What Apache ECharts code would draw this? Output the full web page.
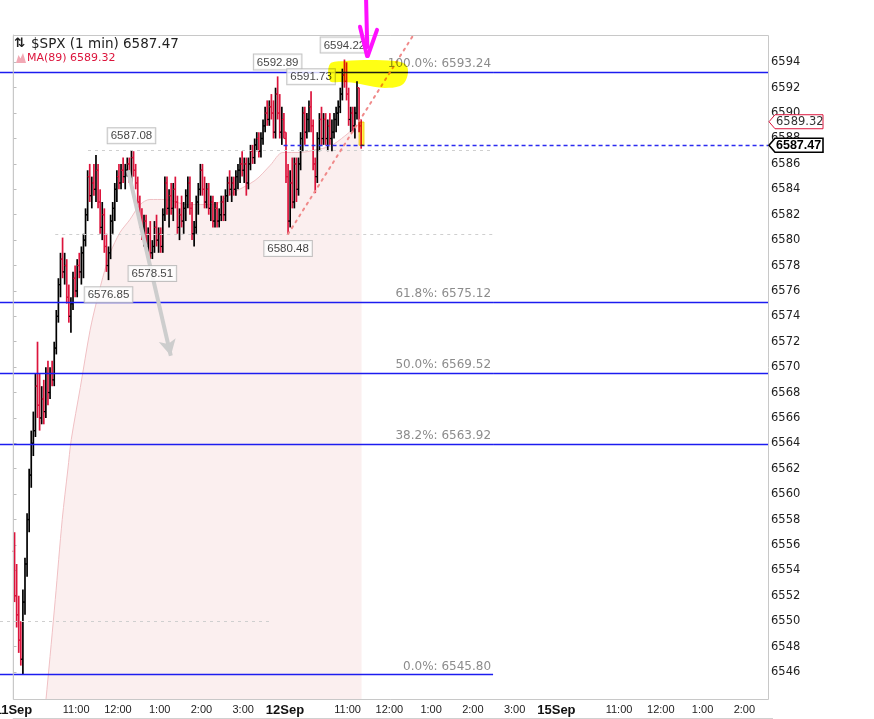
<!DOCTYPE html>
<html><head><meta charset="utf-8">
<script src="https://cdn.jsdelivr.net/npm/echarts@6/dist/echarts.min.js"></script>
<style>html,body{margin:0;padding:0;background:#fff}#c{width:874px;height:719px}</style>
</head><body><div id="c"></div>
<script>
// ---- x axis (trading minutes since 11 Sep 9:30) ----
const tickMinutes = [0,90,150,210,270,330,390,480,540,600,660,720,780,870,930,990,1050];
const tickLabels  = ['11Sep','11:00','12:00','1:00','2:00','3:00','12Sep','11:00','12:00','1:00','2:00','3:00','15Sep','11:00','12:00','1:00','2:00'];
const dayLabels = ['11Sep','12Sep','15Sep'];
const dayOpenMinute = [0, 390, 780];
const barStep = 3;
const xMin = -19.4, xMax = 1084;
// ---- y axis ----
const yMin = 6543.87, yMax = 6596.15;
const yTicks = [6546,6548,6550,6552,6554,6556,6558,6560,6562,6564,6566,6568,6570,6572,6574,6576,6578,6580,6582,6584,6586,6588,6590,6592,6594];

// ---- $SPX bars [open, high, low, close] ----
const day1Bars = [
[6555.5,6557.0,6551.5,6552.0],[6552.0,6554.5,6549.5,6550.5],[6550.5,6552.0,6547.5,6548.5],[6548.5,6550.0,6546.5,6547.0],
[6547.0,6552.5,6545.8,6551.5],[6551.5,6555.0,6550.5,6554.5],[6554.5,6558.5,6553.5,6558.0],[6558.0,6562.0,6557.0,6561.5],
[6561.5,6565.0,6560.5,6564.0],[6564.0,6566.5,6563.0,6565.0],[6565.0,6569.5,6564.5,6568.5],[6568.5,6572.0,6566.0,6567.0],
[6567.0,6569.5,6565.0,6566.0],[6566.0,6568.5,6565.5,6567.5],[6567.5,6569.0,6565.5,6566.5],[6566.5,6570.0,6566.0,6569.5],
[6569.5,6570.5,6567.0,6568.0],[6568.0,6570.0,6567.5,6569.5],[6569.5,6570.5,6568.5,6569.0],[6569.0,6572.0,6568.5,6571.5],
[6571.5,6574.5,6571.0,6574.0],[6574.0,6577.0,6573.5,6576.5],[6576.5,6579.0,6575.5,6578.5],[6578.5,6580.2,6577.0,6577.5],
[6577.5,6579.0,6576.5,6578.0],[6578.0,6578.5,6575.0,6575.5],[6575.5,6576.5,6573.5,6574.0],[6574.0,6575.5,6572.7,6575.0],
[6575.0,6577.5,6574.5,6577.0],[6577.0,6578.0,6575.5,6576.0],[6576.0,6578.5,6575.5,6578.0],[6578.0,6579.0,6577.0,6577.5],
[6577.5,6579.5,6576.5,6579.0],[6579.0,6580.5,6577.0,6580.0],[6580.0,6582.5,6579.5,6582.0],[6582.0,6585.5,6581.5,6585.0],
[6585.0,6586.0,6583.0,6583.5],[6583.5,6585.0,6582.5,6584.5],[6584.5,6586.0,6583.5,6584.0],[6584.0,6586.7,6583.0,6585.5],
[6585.5,6586.0,6582.5,6583.0],[6583.0,6584.0,6580.5,6581.0],[6581.0,6583.0,6580.0,6582.0],[6582.0,6582.5,6579.0,6579.5],
[6579.5,6580.5,6577.5,6578.0],[6578.0,6579.5,6576.85,6579.0],[6579.0,6582.0,6578.5,6581.5],[6581.5,6583.0,6580.5,6582.5],
[6582.5,6584.5,6581.5,6584.0],[6584.0,6585.5,6583.0,6585.0],[6585.0,6586.0,6584.0,6584.5],[6584.5,6586.0,6584.0,6585.5],
[6585.5,6586.5,6584.5,6585.0],[6585.0,6586.0,6584.0,6585.5],[6585.5,6586.5,6585.0,6586.0],[6586.0,6586.5,6584.5,6585.0],
[6585.0,6587.08,6584.5,6586.5],[6586.5,6587.0,6585.0,6585.5],[6585.5,6586.0,6584.0,6584.5],[6584.5,6585.0,6582.5,6583.0],
[6583.0,6583.5,6581.0,6581.5],[6581.5,6582.5,6580.0,6580.5],[6580.5,6582.0,6579.5,6581.5],[6581.5,6582.0,6579.0,6579.5],
[6579.5,6581.0,6579.0,6580.5],[6580.5,6581.5,6578.5,6579.0],[6579.0,6580.0,6578.51,6579.5],[6579.5,6581.5,6579.0,6581.0],
[6581.0,6582.0,6579.5,6580.0],[6580.0,6581.0,6579.0,6580.5],[6580.5,6581.0,6579.0,6579.5],[6579.5,6582.5,6579.0,6582.0],
[6582.0,6585.0,6581.5,6584.5],[6584.5,6585.0,6582.0,6582.5],[6582.5,6584.0,6581.0,6583.5],[6583.5,6584.5,6582.0,6582.5],
[6582.5,6584.5,6581.5,6584.0],[6584.0,6585.0,6582.5,6583.0],[6583.0,6583.5,6580.5,6581.0],[6581.0,6582.5,6580.0,6582.0],
[6582.0,6583.5,6581.0,6581.5],[6581.5,6583.0,6580.5,6582.5],[6582.5,6584.0,6581.5,6583.5],[6583.5,6585.0,6582.5,6584.5],
[6584.5,6585.0,6582.0,6582.5],[6582.5,6583.0,6580.0,6580.5],[6580.5,6581.5,6579.5,6581.0],[6581.0,6583.5,6580.5,6583.0],
[6583.0,6584.5,6582.0,6584.0],[6584.0,6586.0,6583.5,6585.5],[6585.5,6586.0,6583.5,6584.0],[6584.0,6585.0,6582.5,6583.0],
[6583.0,6584.5,6582.5,6584.0],[6584.0,6584.5,6582.0,6582.5],[6582.5,6583.5,6581.5,6583.0],[6583.0,6583.5,6581.0,6581.5],
[6581.5,6583.0,6581.0,6582.5],[6582.5,6583.0,6581.0,6581.5],[6581.5,6582.5,6581.0,6582.0],[6582.0,6583.5,6581.5,6583.0],
[6583.0,6583.5,6581.5,6582.0],[6582.0,6584.0,6581.5,6583.5],[6583.5,6585.0,6583.0,6584.5],[6584.5,6585.5,6583.5,6584.0],
[6584.0,6585.0,6583.0,6584.5],[6584.5,6585.0,6583.5,6584.0],[6584.0,6585.5,6583.5,6585.0],[6585.0,6586.0,6584.0,6585.5],
[6585.5,6586.5,6584.5,6586.0],[6586.0,6587.0,6585.0,6585.5],[6585.5,6586.5,6584.5,6586.0],[6586.0,6586.5,6583.5,6584.5],
[6584.5,6586.5,6584.0,6586.0],[6586.0,6587.5,6585.5,6587.0],[6587.0,6587.5,6586.0,6586.5],[6586.5,6588.0,6586.0,6587.5],
[6587.5,6588.5,6587.0,6588.0],[6588.0,6588.5,6586.5,6587.0],[6587.0,6588.5,6586.5,6588.0],[6588.0,6589.5,6587.5,6589.0],
[6589.0,6590.5,6588.5,6590.0],[6590.0,6591.0,6589.0,6589.5],[6589.5,6591.0,6589.0,6590.5],[6590.5,6591.5,6589.5,6590.0],
[6590.0,6591.0,6588.0,6588.5],[6588.5,6592.0,6588.0,6591.5],[6591.5,6592.89,6589.5,6590.0],[6590.0,6591.5,6588.0,6588.5],
[6588.5,6590.5,6587.5,6589.5],[6589.5,6590.0,6588.0,6588.5]
];
const day2Bars = [
[6588.0,6588.5,6584.5,6585.0],[6585.0,6586.0,6580.48,6581.5],[6581.5,6585.5,6581.0,6584.5],[6584.5,6586.5,6582.5,6583.0],
[6583.0,6586.5,6582.5,6586.0],[6586.0,6586.5,6583.0,6584.0],[6584.0,6586.5,6583.5,6586.0],[6586.0,6588.5,6585.5,6588.0],
[6588.0,6590.5,6587.0,6590.0],[6590.0,6590.5,6587.5,6588.5],[6588.5,6590.0,6588.0,6589.5],[6589.5,6591.0,6588.5,6590.5],
[6590.5,6591.73,6588.5,6589.0],[6589.0,6589.5,6585.5,6586.0],[6586.0,6586.5,6583.7,6585.0],[6585.0,6588.5,6584.5,6588.0],
[6588.0,6590.0,6587.0,6589.5],[6589.5,6590.5,6587.5,6588.0],[6588.0,6590.0,6587.5,6589.5],[6589.5,6590.0,6587.5,6588.0],
[6588.0,6589.5,6587.0,6589.0],[6589.0,6590.0,6587.5,6588.0],[6588.0,6589.5,6587.0,6588.5],[6588.5,6590.0,6588.0,6589.5],
[6589.5,6590.5,6588.5,6590.0],[6590.0,6591.0,6589.0,6590.5],[6590.5,6592.0,6590.0,6591.5],[6591.5,6593.5,6591.0,6593.0],
[6593.0,6594.22,6592.0,6592.5],[6592.5,6594.0,6591.0,6591.5],[6591.5,6592.0,6589.0,6589.5],[6589.5,6590.5,6588.5,6590.0],
[6590.0,6590.5,6588.5,6589.0],[6589.0,6590.5,6588.0,6590.0],[6590.0,6592.5,6589.5,6592.0],[6592.0,6592.0,6588.5,6589.0],
[6589.0,6589.5,6587.2,6587.47]
];

// ---- MA(89) ----
const maMinutes = [38,48,60,70,78,83,96,110,120,131,139,153,167,182,196,218,249,287,311,347,369,387,412,433,455,476,500];
const maValues  = [6539.1,6544.6,6551.7,6558.0,6561.9,6564.3,6568.4,6572.9,6575.3,6577.6,6579.0,6580.6,6581.6,6582.8,6583.2,6583.2,6582.8,6582.8,6583.6,6584.7,6585.9,6586.9,6586.9,6587.1,6587.4,6588.2,6589.32];

// ---- Fibonacci retracement ----
const fibPct    = ['100.0%','61.8%','50.0%','38.2%','0.0%'];
const fibLevels = [6593.24, 6575.12, 6569.52, 6563.92, 6545.80];
const fibFullWidth = [true, true, true, true, false];
const fibLabelEnd = 689;

// ---- labelled swing highs / lows ----
const extremeDay  = [0,0,0,0,1,1,1];
const extremeBar  = [56,45,66,126,1,12,28];
const extremeSide = ['top','bottom','bottom','top','bottom','top','top'];

// ---- drawn annotations (data coordinates: minute, price) ----
const dottedLevels = [6587.08, 6580.48, 6550.0];
const dottedFrom   = [107, 60, -19.4];
const dottedTo     = [689, 689, 368];
const trendStart = [394.5, 6580.48], trendEnd = [574, 6596.1];
const greyArrow = [[164.5, 6585.5], [226, 6570.9]];
const currentLineStart = 388;
const highlightBlob = [[454.7,6593.87],[476.3,6594.10],[512.2,6594.18],[548.1,6594.10],[562.5,6593.87],[566.8,6593.39],[563.9,6592.61],[555.3,6592.13],[533.5,6591.98],[512.2,6592.13],[490.7,6592.37],[469.1,6592.45],[454.7,6592.53]];
const highlightBox = [[496.5, 6589.3],[503.5, 6587.47]];
const penStroke = [[506.5, 6599.1],[508.2, 6595.2]];
const penLeft   = [[497.8, 6596.8],[508.0, 6594.5]];
const penRight  = [[522.3, 6596.55],[509.0, 6594.5]];

const RED = '#dc143c';
const barData = [];
[day1Bars, day2Bars].forEach((bars, d) => bars.forEach((b, i) => {
  barData.push([dayOpenMinute[d] + barStep * i + barStep / 2, b[0], b[1], b[2], b[3]]);
}));
const lastClose = day2Bars[day2Bars.length - 1][3];
const lastMA = maValues[maValues.length - 1];

const extremeData = extremeDay.map((d, k) => {
  const b = (d === 0 ? day1Bars : day2Bars)[extremeBar[k]];
  const m = dayOpenMinute[d] + barStep * extremeBar[k] + barStep / 2;
  const v = extremeSide[k] === 'top' ? b[1] : b[2];
  return { value: [m, v], label: { position: extremeSide[k] } };
});

const fibLineStyle = { color: '#1c1cf0', width: 1.3, type: 'solid' };
const markLines = [];
fibLevels.forEach((lvl, k) => {
  markLines.push([
    { coord: [xMin, lvl], lineStyle: fibLineStyle,
      label: { show: true, position: 'insideEndTop', formatter: fibPct[k] + ': ' + lvl.toFixed(2),
               color: '#8c8c8c', fontSize: 12, fontFamily: 'DejaVu Sans', distance: 2 } },
    { coord: [fibLabelEnd, lvl] }
  ]);
  if (fibFullWidth[k]) markLines.push([{ coord: [fibLabelEnd, lvl], lineStyle: fibLineStyle }, { coord: [xMax, lvl] }]);
});
dottedLevels.forEach((lvl, k) => {
  markLines.push([{ coord: [dottedFrom[k], lvl], lineStyle: { color: '#cfcfcf', width: 1, type: [3, 4] } }, { coord: [dottedTo[k], lvl] }]);
});
markLines.push([{ coord: [currentLineStart, lastClose], lineStyle: { color: '#2b2bf0', width: 1.4, type: [4, 3] } }, { coord: [xMax, lastClose] }]);
markLines.push([{ coord: trendStart, lineStyle: { color: '#f08a8a', width: 2, type: [2, 5], cap: 'round' } }, { coord: trendEnd }]);
markLines.push([{ coord: greyArrow[0], symbol: 'none', lineStyle: { color: '#cdcdcd', width: 4, type: 'solid' } },
                { coord: greyArrow[1], symbol: 'arrow', symbolSize: [13, 16] }]);

const chart = echarts.init(document.getElementById('c'), null, { renderer: 'canvas' });
chart.setOption({
  animation: false,
  backgroundColor: '#fff',
  grid: { left: 0, right: 106, top: 35, bottom: 20, containLabel: false, outerBoundsMode: 'none' },
  xAxis: {
    type: 'value', min: xMin, max: xMax,
    axisLine: { show: false }, splitLine: { show: false },
    axisTick: { show: false },
    axisLabel: {
      customValues: tickMinutes, margin: 5, fontSize: 11, color: '#222', fontFamily: 'Liberation Sans',
      formatter: v => { const t = tickLabels[tickMinutes.indexOf(v)] || ''; return dayLabels.includes(t) ? '{d|' + t + '}' : t; },
      rich: { d: { fontWeight: 'bold', fontSize: 13, fontFamily: 'Liberation Sans', color: '#111' } }
    }
  },
  yAxis: {
    type: 'value', position: 'right', min: yMin, max: yMax, scale: true,
    axisLine: { show: true, lineStyle: { color: '#c8c8c8' } },
    splitLine: { show: false },
    axisTick: { show: true, length: 3, lineStyle: { color: '#bdbdbd' }, customValues: yTicks },
    axisLabel: { customValues: yTicks, formatter: v => String(v), margin: 3, fontSize: 11.5, color: '#222', fontFamily: 'DejaVu Sans' }
  },
  series: [
    {
      type: 'line', name: 'MA(89)', z: 1, smooth: 0.3, showSymbol: false, symbol: 'none',
      data: maMinutes.map((m, i) => [m, maValues[i]]),
      lineStyle: { color: '#f0c0c4', width: 1 },
      areaStyle: { color: 'rgba(232,150,150,0.22)', origin: 'start' },
      clip: true, silent: true
    },
    {
      type: 'custom', name: '$SPX', z: 3, clip: true, silent: true,
      data: barData,
      encode: { x: 0, y: [1, 2, 3, 4] },
      renderItem: (params, api) => {
        const m = api.value(0);
        const o = api.value(1), h = api.value(2), l = api.value(3), c = api.value(4);
        const pH = api.coord([m, h]), pL = api.coord([m, l]), pO = api.coord([m, o]), pC = api.coord([m, c]);
        const col = c >= o ? '#000' : RED;
        const st = { stroke: col, lineWidth: 1.7 };
        return { type: 'group', children: [
          { type: 'line', shape: { x1: pH[0], y1: pH[1], x2: pL[0], y2: pL[1] }, style: st },
          { type: 'line', shape: { x1: pO[0] - 2, y1: pO[1], x2: pO[0], y2: pO[1] }, style: { stroke: col, lineWidth: 1.2 } },
          { type: 'line', shape: { x1: pC[0], y1: pC[1], x2: pC[0] + 2, y2: pC[1] }, style: { stroke: col, lineWidth: 1.2 } }
        ]};
      },
      markLine: { silent: true, symbol: 'none', animation: false, label: { show: false }, data: markLines }
    },
    {
      type: 'scatter', z: 6, silent: true, symbolSize: 0.01,
      itemStyle: { color: 'rgba(0,0,0,0)' },
      data: extremeData,
      label: { show: true, formatter: p => p.value[1].toFixed(2), backgroundColor: '#fff', borderColor: '#b4b4b4',
               borderWidth: 1, padding: [2, 3, 1, 3], fontSize: 11.5, fontFamily: 'Liberation Sans', color: '#111', distance: 7 }
    }
  ]
});

// ---- overlays positioned through the chart's scales ----
const px = (m, v) => chart.convertToPixel({ gridIndex: 0 }, [m, v]);
const gTop = px(0, yMax)[1], gBot = px(0, yMin)[1];
const frameL = px(-1, yMax)[0], frameR = px(xMax, yMax)[0];
const els = [];
els.push({ type: 'rect', z: 50, shape: { x: frameL + 0.5, y: gTop + 0.5, width: frameR - frameL, height: gBot - gTop }, style: { fill: 'none', stroke: '#c8c8c8', lineWidth: 1 } });
els.push({ type: 'line', z: 50, shape: { x1: frameL, y1: 718.5, x2: frameR + 5, y2: 718.5 }, style: { stroke: '#d0d0d0', lineWidth: 1 } });
// highlighter blob
els.push({ type: 'polygon', z: 100, shape: { points: highlightBlob.map(p => px(p[0], p[1])), smooth: 0.35 }, style: { fill: 'rgb(255,255,20)', blend: 'multiply' } });
const hb0 = px(highlightBox[0][0], highlightBox[0][1]), hb1 = px(highlightBox[1][0], highlightBox[1][1]);
els.push({ type: 'rect', z: 100, shape: { x: hb0[0], y: hb0[1], width: hb1[0] - hb0[0], height: hb1[1] - hb0[1] }, style: { fill: 'rgb(255,245,80)', stroke: 'rgb(245,215,40)', lineWidth: 1, blend: 'multiply' } });
// magenta pen arrow
[penStroke, penLeft, penRight].forEach(seg => {
  els.push({ type: 'polyline', z: 101, shape: { points: seg.map(p => px(p[0], p[1])) }, style: { stroke: '#ff10ff', lineWidth: 4, lineCap: 'round', fill: 'none' } });
});
// price tags on the right axis
function tag(v, txt, border, bold, bw) {
  const y = px(xMax, v)[1], x0 = frameR;
  els.push({ type: 'polygon', z: 110, shape: { points: [[x0 + 1, y], [x0 + 7, y - 7], [x0 + 55, y - 7], [x0 + 55, y + 7], [x0 + 7, y + 7]] }, style: { fill: '#fff', stroke: border, lineWidth: bw } });
  els.push({ type: 'text', z: 111, x: x0 + 8, y: y + 0.5, style: { text: txt, fill: bold ? '#000' : '#333', font: bold ? 'bold 12.5px "Liberation Sans"' : '11.5px "DejaVu Sans"', align: 'left', verticalAlign: 'middle' } });
}
tag(lastMA, lastMA.toFixed(2), RED, false, 1);
tag(lastClose, lastClose.toFixed(2), '#000', true, 1.6);
// legend
els.push({ type: 'text', z: 120, x: 14, y: 44, style: { text: '⇅', fill: '#222', font: 'bold 13px "DejaVu Sans"', verticalAlign: 'middle' } });
els.push({ type: 'text', z: 120, x: 31, y: 44, style: { text: '$SPX (1 min) ' + lastClose.toFixed(2), fill: '#222', font: '13.5px "DejaVu Sans"', verticalAlign: 'middle' } });
els.push({ type: 'polygon', z: 120, shape: { points: [[16, 63], [18.5, 55], [20.5, 58.5], [23, 53], [26, 63]] }, style: { fill: '#f2a8b4' } });
els.push({ type: 'text', z: 120, x: 27, y: 58, style: { text: 'MA(89) ' + lastMA.toFixed(2), fill: RED, font: '11px "DejaVu Sans"', verticalAlign: 'middle' } });
chart.setOption({ graphic: { elements: els } });
</script>
</body></html>
